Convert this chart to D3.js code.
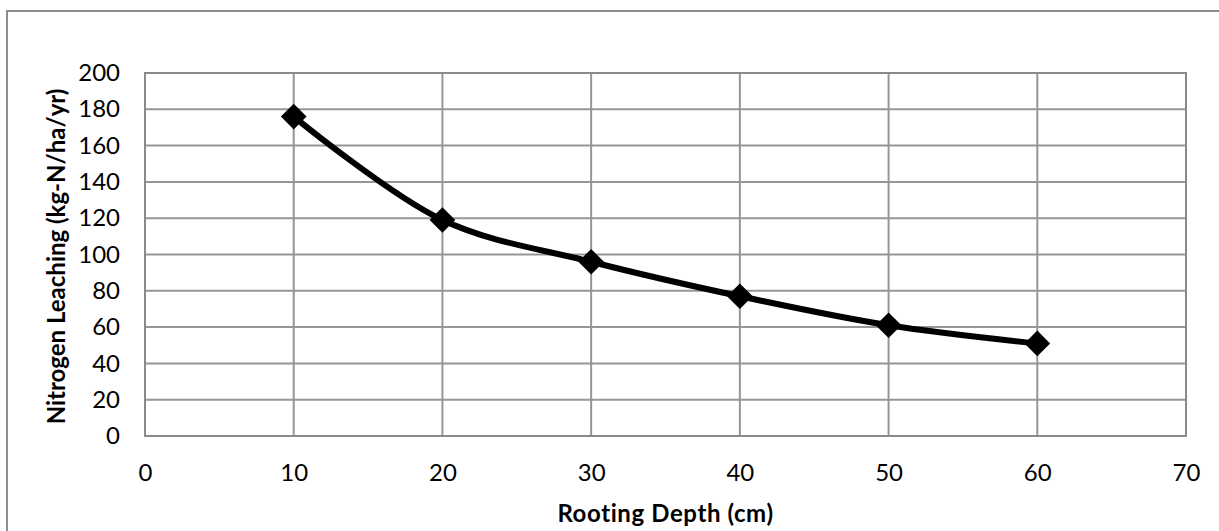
<!DOCTYPE html>
<html>
<head>
<meta charset="utf-8">
<script src="https://d3js.org/d3.v7.min.js"></script>
<style>
  html, body { margin: 0; padding: 0; background: #fff; }
  svg { display: block; }
  text { font-family: Lato, "Open Sans", sans-serif; fill: #000; }
</style>
</head>
<body>
<svg id="chart" width="1219" height="531"></svg>
<script>
const depths = [10, 20, 30, 40, 50, 60];
const leaching = [176, 119, 96, 77, 61, 51];
const xTicks = [0, 10, 20, 30, 40, 50, 60, 70];
const yTicks = [0, 20, 40, 60, 80, 100, 120, 140, 160, 180, 200];
const xTitle = "Rooting Depth (cm)";
const yTitle = "Nitrogen Leaching (kg-N/ha/yr)";

const svg = d3.select("#chart");
const W = 1219, H = 531;
const plot = { left: 145, top: 73, right: 1186, bottom: 436 };

// outer chart border
svg.append("rect")
  .attr("x", 7).attr("y", 11)
  .attr("width", W + 20).attr("height", H + 20)
  .attr("fill", "#fff").attr("stroke", "#8e8e8e").attr("stroke-width", 2);

const x = d3.scaleLinear().domain([0, 70]).range([plot.left, plot.right]);
const y = d3.scaleLinear().domain([0, 200]).range([plot.bottom, plot.top]);

// gridlines
const grid = svg.append("g");
grid.selectAll("line.h").data(yTicks).join("line")
  .attr("x1", plot.left).attr("x2", plot.right)
  .attr("y1", d => y(d)).attr("y2", d => y(d))
  .attr("stroke", "#969696").attr("stroke-width", 2);
grid.selectAll("line.v").data(xTicks).join("line")
  .attr("y1", plot.top).attr("y2", plot.bottom)
  .attr("x1", d => x(d)).attr("x2", d => x(d))
  .attr("stroke", "#969696").attr("stroke-width", 2);

// plot area border
svg.append("rect")
  .attr("x", plot.left).attr("y", plot.top)
  .attr("width", plot.right - plot.left).attr("height", plot.bottom - plot.top)
  .attr("fill", "none").attr("stroke", "#8a8a8a").attr("stroke-width", 2);

// axes (labels only)
const xAxis = svg.append("g")
  .attr("transform", `translate(0,${plot.bottom})`)
  .call(d3.axisBottom(x).tickValues(xTicks).tickSize(0).tickPadding(28).tickFormat(d3.format("d")));
xAxis.select(".domain").remove();
xAxis.selectAll("text").style("font-size", "24px").attr("fill", "#000");

const yAxis = svg.append("g")
  .attr("transform", `translate(${plot.left},0)`)
  .call(d3.axisLeft(y).tickValues(yTicks).tickSize(0).tickPadding(25).tickFormat(d3.format("d")));
yAxis.select(".domain").remove();
yAxis.selectAll("text").style("font-size", "24px").attr("fill", "#000");

// axis titles
svg.append("text")
  .attr("x", (plot.left + plot.right) / 2).attr("y", 522)
  .attr("text-anchor", "middle")
  .style("font-size", "24px").style("font-weight", "bold")
  .style("letter-spacing", "0.6px")
  .text(xTitle);

svg.append("text")
  .attr("transform", `translate(65,${(plot.top + plot.bottom) / 2 + 2}) rotate(-90)`)
  .attr("text-anchor", "middle")
  .style("font-size", "24px").style("font-weight", "bold")
  .text(yTitle);

// data
const data = depths.map((d, i) => ({ x: d, y: leaching[i] }));
const line = d3.line().x(d => x(d.x)).y(d => y(d.y)).curve(d3.curveCatmullRom.alpha(0.5));
svg.append("path")
  .datum(data)
  .attr("d", line)
  .attr("fill", "none").attr("stroke", "#000").attr("stroke-width", 6)
  .attr("stroke-linejoin", "round");

const diamond = d3.symbol().type(d3.symbolDiamond2).size(420);
svg.selectAll("path.marker").data(data).join("path")
  .attr("class", "marker")
  .attr("transform", d => `translate(${x(d.x)},${y(d.y)})`)
  .attr("d", diamond)
  .attr("fill", "#000");
</script>
</body>
</html>
